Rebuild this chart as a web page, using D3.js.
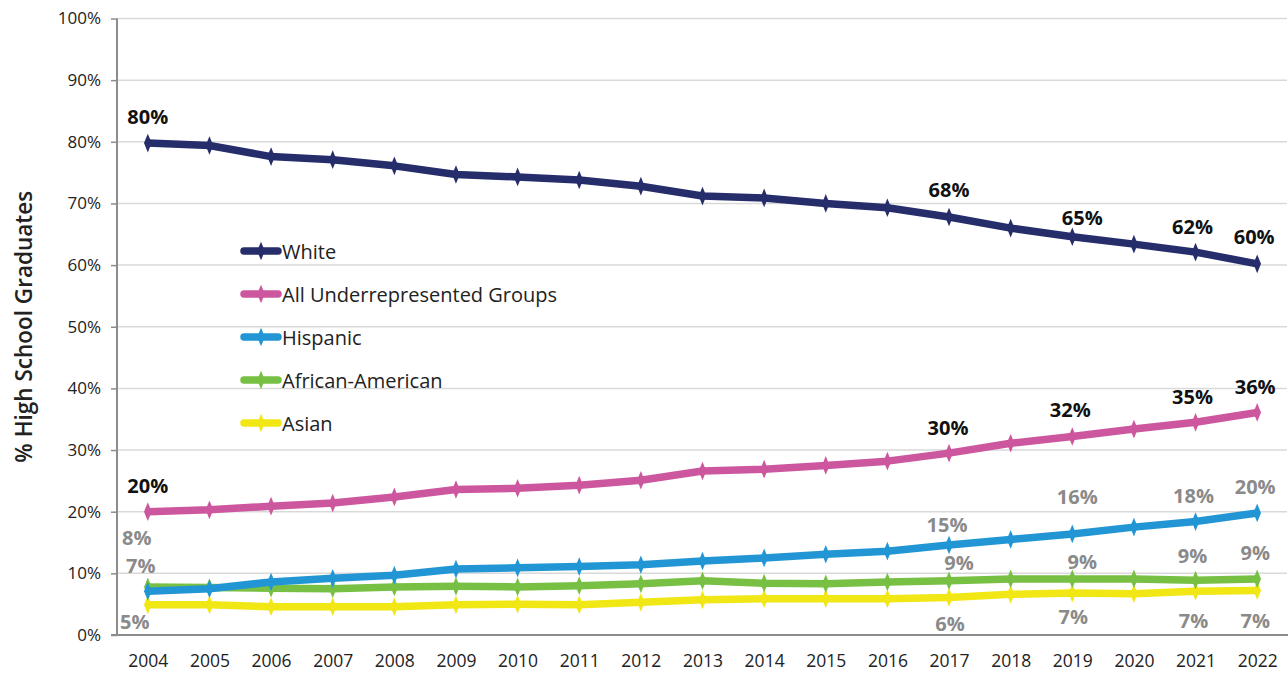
<!DOCTYPE html>
<html>
<head>
<meta charset="utf-8">
<script src="https://cdn.jsdelivr.net/npm/d3@7"></script>
<style>
  html, body { margin: 0; padding: 0; background: #fff; }
  svg { display: block; font-family: "Open Sans", "Noto Sans", sans-serif; }
</style>
</head>
<body>
<svg id="chart" width="1288" height="674"></svg>
<script>
const years = ["2004","2005","2006","2007","2008","2009","2010","2011","2012","2013","2014","2015","2016","2017","2018","2019","2020","2021","2022"];
const yTicks = [0,10,20,30,40,50,60,70,80,90,100];
const seriesNames = ["White","All Underrepresented Groups","Hispanic","African-American","Asian"];
const white    = [79.8,79.4,77.6,77.1,76.1,74.7,74.3,73.8,72.8,71.2,70.9,70.0,69.3,67.8,66.0,64.6,63.4,62.1,60.2];
const urg      = [20.0,20.3,20.9,21.4,22.4,23.6,23.8,24.3,25.1,26.6,26.9,27.5,28.2,29.5,31.1,32.2,33.4,34.5,36.1];
const hispanic = [7.1,7.5,8.6,9.2,9.7,10.7,10.9,11.1,11.4,12.0,12.5,13.1,13.6,14.6,15.5,16.4,17.5,18.4,19.8];
const african  = [7.8,7.7,7.6,7.5,7.8,7.9,7.8,8.0,8.3,8.8,8.4,8.3,8.6,8.8,9.1,9.1,9.1,8.9,9.1];
const asian    = [4.9,4.9,4.6,4.6,4.6,4.9,5.0,4.9,5.3,5.7,5.9,5.9,5.9,6.1,6.6,6.8,6.7,7.1,7.2];
const labelYears = ["2004","2017","2019","2021","2022"];
const labelTexts = {
  "White": ["80%","68%","65%","62%","60%"],
  "All Underrepresented Groups": ["20%","30%","32%","35%","36%"],
  "Hispanic": ["7%","15%","16%","18%","20%"],
  "African-American": ["8%","9%","9%","9%","9%"],
  "Asian": ["5%","6%","7%","7%","7%"]
};

// styling / placement (not data)
const colors = ["#262d6b","#cd579e","#2296d4","#78c043","#f1e715"];
const labelColors = ["#111","#111","#8a8a8a","#8a8a8a","#8a8a8a"];
const labelOffsets = {
  "White": [[0,-27],[0,-28],[10,-19],[-3,-26],[-3,-27]],
  "All Underrepresented Groups": [[0,-26],[-1,-26],[-2,-27],[-3,-26],[-2,-26]],
  "Hispanic": [[-7,-26],[-2,-20],[5,-37],[-2,-26],[-2,-26]],
  "African-American": [[-11,-49],[10,-18],[10,-17],[-3,-25],[-2,-26]],
  "Asian": [[-13,17],[1,26],[1,23],[-2,29],[-2,30]]
};

const values = [white, urg, hispanic, african, asian];

(function draw(){
const series = seriesNames.map((n,i)=>({name:n, color:colors[i], lc:labelColors[i], vals: years.map((yr,j)=>({year:yr, v:values[i][j]}))}));

const svg = d3.select("#chart");
const mLeft = 117, mRight = 1288, mTop = 18.5, mBottom = 635;

const x = d3.scalePoint().domain(years).range([mLeft, mRight]).padding(0.5);
const y = d3.scaleLinear().domain([0,100]).range([mBottom, mTop]);

// gridlines
svg.append("g").selectAll("line").data(yTicks.filter(t=>t>0)).join("line")
  .attr("x1", mLeft).attr("x2", mRight - 1)
  .attr("y1", d=>y(d)).attr("y2", d=>y(d))
  .attr("stroke", "#d9d9d9").attr("stroke-width", 1.5);

// y axis
const yAxis = svg.append("g").attr("transform", `translate(${mLeft},0)`)
  .call(d3.axisLeft(y).tickValues(yTicks).tickFormat(d=>d+"%").tickSize(6).tickPadding(10));
yAxis.select(".domain").attr("stroke","#8c8c8c").attr("stroke-width",2).attr("d", `M0,${mBottom+1}V${mTop}`);
yAxis.selectAll(".tick line").attr("stroke","#8c8c8c").attr("stroke-width",1.5);
yAxis.selectAll(".tick text").attr("fill","#222").style("font-size","17px").style("font-family","'Open Sans'");

// x axis
const xAxis = svg.append("g").attr("transform", `translate(0,${mBottom})`)
  .call(d3.axisBottom(x).tickSize(0).tickPadding(20));
xAxis.select(".domain").attr("stroke","#8c8c8c").attr("stroke-width",2).attr("d", `M${mLeft-6},0H${mRight}`);
xAxis.selectAll(".tick text").attr("fill","#222").style("font-size","17.5px").style("font-family","'Open Sans'");

// y axis title
svg.append("text")
  .attr("transform", `translate(23,${(mTop+mBottom)/2}) rotate(-90)`)
  .attr("text-anchor","middle").attr("dominant-baseline","central")
  .attr("fill","#222").style("font-size","22.5px").style("font-weight","600")
  .text("% High School Graduates");

const line = d3.line().x(d=>x(d.year)).y(d=>y(d.v));
const diamond = d3.symbol().type(d3.symbolDiamond).size(70);

// draw series (back to front: Asian first)
[4,3,2,1,0].forEach(i=>{
  const s = series[i];
  const g = svg.append("g");
  g.append("path").datum(s.vals).attr("d", line)
    .attr("fill","none").attr("stroke", s.color).attr("stroke-width",7.5)
    .attr("stroke-linejoin","round").attr("stroke-linecap","butt");
  g.selectAll("path.m").data(s.vals).join("path").attr("class","m")
    .attr("transform", d=>`translate(${x(d.year)},${y(d.v)}) scale(0.85,1.2)`)
    .attr("d", diamond).attr("fill", s.color);
});

// labels
series.forEach((s)=>{
  labelYears.forEach((yr,k)=>{
    const j = years.indexOf(yr);
    const off = labelOffsets[s.name][k];
    svg.append("text")
      .attr("x", x(yr) + off[0]).attr("y", y(s.vals[j].v) + off[1])
      .attr("text-anchor","middle").attr("dominant-baseline","central")
      .attr("fill", s.lc).style("font-size","20px").style("font-weight","700")
      .text(labelTexts[s.name][k]);
  });
});

// legend
const legend = svg.append("g");
series.forEach((s,i)=>{
  const ly = 251 + i*43;
  legend.append("line").attr("x1",244).attr("x2",278).attr("y1",ly).attr("y2",ly)
    .attr("stroke", s.color).attr("stroke-width",7.5).attr("stroke-linecap","round");
  legend.append("path").attr("d", diamond)
    .attr("transform",`translate(261,${ly}) scale(0.85,1.2)`).attr("fill", s.color);
  legend.append("text").attr("x",282).attr("y",ly).attr("dominant-baseline","central")
    .attr("fill","#222").style("font-size","20px").text(s.name);
});
})();
</script>
</body>
</html>
